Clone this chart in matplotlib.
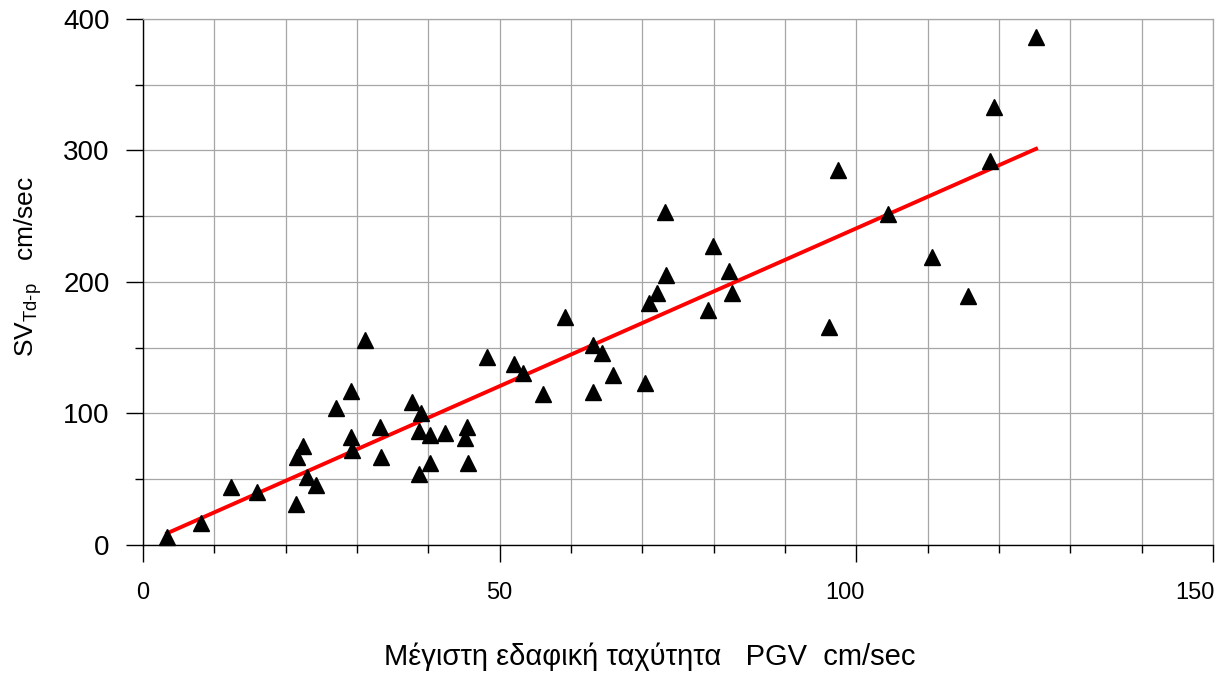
import matplotlib
matplotlib.use('Agg')

import matplotlib.pyplot as plt
from matplotlib.ticker import MultipleLocator, NullFormatter
from matplotlib.transforms import ScaledTranslation, blended_transform_factory
import numpy as np

plt.rcParams['font.family'] = ['Liberation Sans', 'DejaVu Sans']
plt.rcParams['mathtext.fontset'] = 'custom'
plt.rcParams['mathtext.rm'] = 'Liberation Sans'
plt.rcParams['mathtext.it'] = 'Liberation Sans'

# peak ground velocity (cm/sec) and spectral velocity SV_Td-p (cm/sec)
pgv = [3.4, 8.1, 12.3, 16.0, 21.4, 21.6, 22.4, 23.0, 24.3, 27.1,
       29.2, 29.2, 29.3, 31.1, 33.2, 33.4, 37.7, 39.0, 38.7, 38.7,
       40.2, 40.2, 42.4, 45.4, 45.1, 45.6, 48.2, 52.0, 53.3, 56.1,
       59.1, 63.1, 64.3, 63.1, 65.9, 70.4, 70.9, 72.1, 73.3, 73.2,
       79.9, 82.1, 82.6, 79.2, 96.2, 97.4, 104.4, 110.6, 115.7, 118.7,
       119.3, 125.2]
sv = [6, 17, 44, 40, 31, 67, 75, 52, 46, 104,
      117, 82, 72, 156, 90, 67, 109, 100, 87, 54,
      84, 62, 85, 90, 81, 62, 143, 138, 131, 115,
      173, 152, 146, 116, 129, 123, 184, 192, 205, 253,
      227, 208, 192, 179, 166, 285, 252, 219, 189, 292,
      333, 386]

# linear trend line
fit_slope = 2.4
fit_intercept = 0.8

xtick_vals = [0, 50, 100, 150]
xtick_labels = ['0', '50', '100', '150']

fig = plt.figure(figsize=(12.26, 6.75), dpi=100)
ax = fig.add_axes([0.1166, 0.1926, 0.8728, 0.7793])

ax.set_xlim(0, 150)
ax.set_ylim(0, 400)

ax.set_xticks(xtick_vals)
ax.xaxis.set_major_formatter(NullFormatter())
ax.xaxis.set_minor_locator(MultipleLocator(10))
ax.yaxis.set_major_locator(MultipleLocator(100))
ax.yaxis.set_minor_locator(MultipleLocator(50))

ax.grid(which='both', color='#a6a6a6', lw=0.9)
ax.set_axisbelow(True)

for side in ['top', 'right']:
    ax.spines[side].set_color('#a6a6a6')
    ax.spines[side].set_linewidth(0.9)
for side in ['left', 'bottom']:
    ax.spines[side].set_color('black')
    ax.spines[side].set_linewidth(1.0)

ax.tick_params(axis='both', which='major', direction='out', length=12, width=1.0)
ax.tick_params(axis='both', which='minor', direction='out', length=6, width=1.0)
ax.tick_params(axis='y', which='major', labelsize=20, pad=12)

xfit = np.array([min(pgv), max(pgv)])
ax.plot(xfit, fit_slope * xfit + fit_intercept, color='red', lw=2.8, zorder=3)
ax.plot(pgv, sv, linestyle='none', marker='^', markersize=11,
        color='black', clip_on=False, zorder=4)

# x tick labels, the right-hand ones nudged left so they stay inside
nudge_px = [0, 0, -11, -18]
base = blended_transform_factory(ax.transData, fig.transFigure)
for v, lab, dx in zip(xtick_vals, xtick_labels, nudge_px):
    tr = base + ScaledTranslation(dx / 100, 0, fig.dpi_scale_trans)
    ax.text(v, 1 - 593 / 675, lab, transform=tr, fontsize=17,
            ha='center', va='center', clip_on=False)

fig.text(0.530, 0.027, 'Μέγιστη εδαφική ταχύτητα   PGV  cm/sec',
         fontsize=21, ha='center', va='center')
fig.text(0.023, 0.605, r'SV$_{\mathrm{Td}\text{-}\mathrm{p}}$   cm/sec',
         fontsize=19, rotation=90, ha='center', va='center')

fig.savefig('out.png', dpi=100)
